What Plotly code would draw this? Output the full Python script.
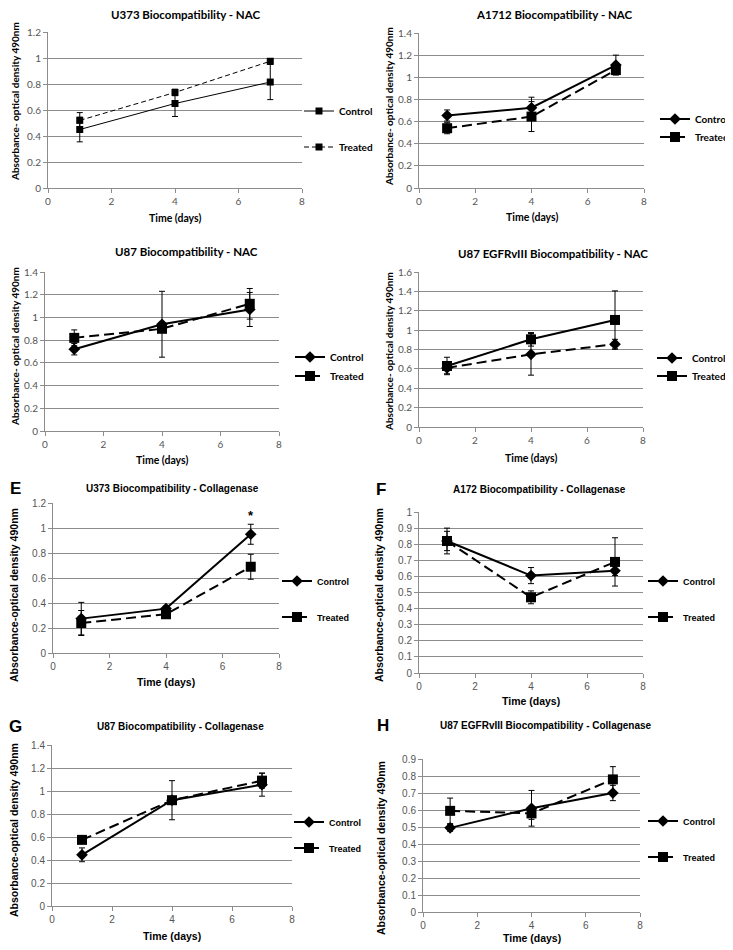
import plotly.graph_objects as go

W, H = 733, 950
OX, OY = 8, 8            # page body margin in the browser
FW, FH = W - OX, H - OY  # figure size that fits the window
days = [1, 4, 7]
x_ticks = [0, 2, 4, 6, 8]

# ---- data ----
u373_nac_control = [0.45, 0.65, 0.815]
u373_nac_control_err = [0.095, 0.10, 0.135]
u373_nac_treated = [0.52, 0.735, 0.975]
u373_nac_treated_err = [0.06, 0.025, 0.015]

a1712_nac_control = [0.655, 0.725, 1.11]
a1712_nac_control_err = [0.05, 0.095, 0.09]
a1712_nac_treated = [0.54, 0.645, 1.065]
a1712_nac_treated_err = [0.05, 0.135, 0.03]

u87_nac_control = [0.72, 0.94, 1.07]
u87_nac_control_err = [0.05, 0.29, 0.15]
u87_nac_treated = [0.82, 0.90, 1.12]
u87_nac_treated_err = [0.07, 0.03, 0.135]

egfr_nac_control = [0.61, 0.75, 0.855]
egfr_nac_control_err = [0.06, 0.215, 0.05]
egfr_nac_treated = [0.63, 0.905, 1.105]
egfr_nac_treated_err = [0.09, 0.07, 0.30]

u373_col_control = [0.275, 0.355, 0.95]
u373_col_control_err = [0.13, 0.02, 0.08]
u373_col_treated = [0.24, 0.31, 0.69]
u373_col_treated_err = [0.10, 0.02, 0.10]

a172_col_control = [0.82, 0.605, 0.635]
a172_col_control_err = [0.08, 0.05, 0.03]
a172_col_treated = [0.82, 0.47, 0.69]
a172_col_treated_err = [0.06, 0.04, 0.15]

u87_col_control = [0.445, 0.92, 1.055]
u87_col_control_err = [0.06, 0.17, 0.10]
u87_col_treated = [0.575, 0.92, 1.09]
u87_col_treated_err = [0.03, 0.02, 0.065]

egfr_col_control = [0.495, 0.61, 0.70]
egfr_col_control_err = [0.02, 0.105, 0.045]
egfr_col_treated = [0.595, 0.58, 0.78]
egfr_col_treated_err = [0.075, 0.035, 0.075]

titles = ["U373 Biocompatibility - NAC", "A1712 Biocompatibility - NAC",
          "U87 Biocompatibility - NAC", "U87 EGFRvIII Biocompatibility - NAC",
          "U373 Biocompatibility - Collagenase", "A172 Biocompatibility - Collagenase",
          "U87 Biocompatibility - Collagenase", "U87 EGFRvIII Biocompatibility - Collagenase"]
panel_letters = ["", "", "", "", "E", "F", "G", "H"]
y_max = [1.2, 1.4, 1.4, 1.6, 1.2, 1.0, 1.4, 0.9]
y_dtick = [0.2, 0.2, 0.2, 0.2, 0.2, 0.1, 0.2, 0.1]
series_names = ["Control", "Treated"]

# ---- layout / style (pixel geometry in window coordinates) ----
# plot area: x0, x1, ytop, ybottom
boxes = [(48, 302, 32, 188), (419, 644, 33, 188),
         (45, 279, 272, 431), (419, 643, 272, 427),
         (53, 279, 503, 653), (419, 643, 512, 673),
         (52, 292, 745, 906), (423, 640, 759, 912)]
title_pos = [(185, 15), (554, 15), (186, 252), (553, 253),
             (172, 488), (539, 489), (180, 726), (546, 725)]
letter_pos = [None, None, None, None, (15, 488), (381, 489), (15, 726), (383, 725)]
ytitle_x = [15, 389, 15, 389, 14, 379, 14, 381]
ytitle_y = [102, 107, 347, 352, 595, 595, 830, 848]
xtitle_y = [218, 217, 460, 458, 682, 701, 936, 938]
legend_x = [299, 655, 290, 652, 277, 643, 289, 643]
legend_y = [(111, 147), (119, 137), (357, 376), (358, 376),
            (581, 617), (581, 617), (822, 848), (821, 857)]


def px(x):
    return (x - OX) / FW


def py(y):
    return 1 - (y - OY) / FH


data = [
    (u373_nac_control, u373_nac_control_err, u373_nac_treated, u373_nac_treated_err),
    (a1712_nac_control, a1712_nac_control_err, a1712_nac_treated, a1712_nac_treated_err),
    (u87_nac_control, u87_nac_control_err, u87_nac_treated, u87_nac_treated_err),
    (egfr_nac_control, egfr_nac_control_err, egfr_nac_treated, egfr_nac_treated_err),
    (u373_col_control, u373_col_control_err, u373_col_treated, u373_col_treated_err),
    (a172_col_control, a172_col_control_err, a172_col_treated, a172_col_treated_err),
    (u87_col_control, u87_col_control_err, u87_col_treated, u87_col_treated_err),
    (egfr_col_control, egfr_col_control_err, egfr_col_treated, egfr_col_treated_err),
]

# style per panel: (control symbol, control dash, treated symbol, treated dash, line width)
styles = [
    ("square", "solid", "square", "5px,3px", 1),
    ("diamond", "solid", "square", "10px,5px", 2),
    ("diamond", "solid", "square", "10px,5px", 2),
    ("diamond", "10px,5px", "square", "solid", 2),
    ("diamond", "solid", "square", "10px,5px", 2),
    ("diamond", "solid", "square", "10px,5px", 2),
    ("diamond", "solid", "square", "10px,5px", 2),
    ("diamond", "solid", "square", "10px,5px", 2),
]

NAC_FONT = "Lato"
COL_FONT = "Liberation Sans"
GRID = "#8c8c8c"
TICKC = "#555555"

fig = go.Figure()
layout = {}
annotations = []
leg_i = 0
for i in range(8):
    x0, x1, yt, yb = boxes[i]
    ax = "" if i == 0 else str(i + 1)
    nac = i < 4
    font = NAC_FONT if nac else COL_FONT
    csym, cdash, tsym, tdash, lw = styles[i]
    ctrl, cerr, trt, terr = data[i]
    msq = 7 if i == 0 else 10
    mdi = 9
    for j, (vals, errs, sym, dash) in enumerate([(ctrl, cerr, csym, cdash), (trt, terr, tsym, tdash)]):
        leg_i += 1
        lname = "legend" if leg_i == 1 else f"legend{leg_i}"
        fig.add_trace(go.Scatter(
            x=days, y=vals, name=f"<b>{series_names[j]}</b>",
            mode="lines+markers",
            line=dict(color="black", width=lw, dash=dash),
            marker=dict(symbol=sym, size=(msq if sym == "square" else mdi), color="black"),
            error_y=dict(type="data", array=errs, visible=True, color="black", thickness=1, width=3),
            xaxis="x" + ax, yaxis="y" + ax, legend=lname, showlegend=True))
        layout[lname] = dict(
            x=px(legend_x[i]), y=py(legend_y[i][j]), xanchor="left", yanchor="middle",
            xref="paper", yref="paper", bgcolor="rgba(0,0,0,0)",
            font=dict(family=font, size=10 if nac else 9, color="black"),
            borderwidth=0)
    layout["xaxis" + ax] = dict(
        domain=[px(x0), px(x1)], anchor="y" + ax, range=[0, 8], tickvals=x_ticks,
        showline=True, linecolor=GRID, ticks="outside", ticklen=4, tickcolor=GRID,
        showgrid=False, zeroline=False, fixedrange=True,
        tickfont=dict(family=font, size=10, color=TICKC))
    layout["yaxis" + ax] = dict(
        domain=[py(yb), py(yt)], anchor="x" + ax, range=[0, y_max[i]], dtick=y_dtick[i],
        tick0=0, showline=True, linecolor=GRID, ticks="outside", ticklen=4, tickcolor=GRID,
        showgrid=True, gridcolor=GRID, gridwidth=1, zeroline=False, fixedrange=True,
        tickfont=dict(family=font, size=10, color=TICKC))
    tx, ty = title_pos[i]
    annotations.append(dict(text=f"<b>{titles[i]}</b>", x=px(tx), y=py(ty), xref="paper", yref="paper",
                            showarrow=False, xanchor="center", yanchor="middle",
                            font=dict(family=font, size=11.5 if nac else 10, color="black")))
    annotations.append(dict(text="<b>Time (days)</b>", x=px((x0 + x1) / 2), y=py(xtitle_y[i]),
                            xref="paper", yref="paper", showarrow=False, xanchor="center", yanchor="middle",
                            font=dict(family=font, size=10.5, color="black")))
    ytxt = "Absorbance- optical density 490nm" if nac else "Absorbance-optical density 490nm"
    annotations.append(dict(text=f"<b>{ytxt}</b>", x=px(ytitle_x[i]), y=py(ytitle_y[i]),
                            xref="paper", yref="paper", showarrow=False, textangle=-90,
                            xanchor="center", yanchor="middle",
                            font=dict(family=font, size=10 if nac else 10.5, color="black")))
    if letter_pos[i]:
        lx, ly = letter_pos[i]
        annotations.append(dict(text="<b>" + panel_letters[i] + "</b>", x=px(lx), y=py(ly),
                                xref="paper", yref="paper", showarrow=False, xanchor="center",
                                yanchor="middle", font=dict(family=COL_FONT, size=17, color="black")))

# significance marker, panel E at day 7
annotations.append(dict(text="<b>*</b>", x=days[2], y=1.1, xref="x5", yref="y5", showarrow=False,
                        font=dict(family=COL_FONT, size=13, color="black")))

fig.update_layout(width=FW, height=FH, margin=dict(l=0, r=0, t=0, b=0, autoexpand=False),
                  paper_bgcolor="white", plot_bgcolor="white",
                  annotations=annotations, **layout)
fig.write_html("out.html")
